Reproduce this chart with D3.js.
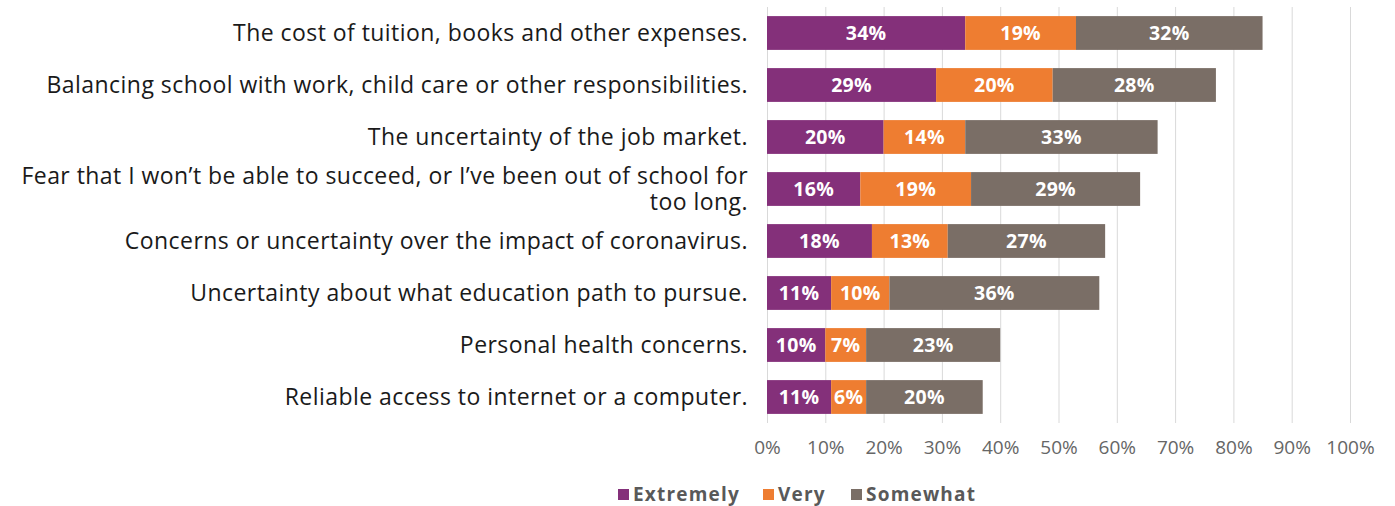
<!DOCTYPE html>
<html><head><meta charset="utf-8">
<script src="https://cdn.jsdelivr.net/npm/d3@7"></script>
<style>body{margin:0;background:#fff}svg{display:block}</style>
</head><body>
<svg id="c" width="1395" height="506"></svg>
<script>
const categories = [
  "The cost of tuition, books and other expenses.",
  "Balancing school with work, child care or other responsibilities.",
  "The uncertainty of the job market.",
  "Fear that I won\u2019t be able to succeed, or I\u2019ve been out of school for|too long.",
  "Concerns or uncertainty over the impact of coronavirus.",
  "Uncertainty about what education path to pursue.",
  "Personal health concerns.",
  "Reliable access to internet or a computer."
];
const seriesNames = ["Extremely", "Very", "Somewhat"];
const extremely = [34, 29, 20, 16, 18, 11, 10, 11];
const very = [19, 20, 14, 19, 13, 10, 7, 6];
const somewhat = [32, 28, 33, 29, 27, 36, 23, 20];
const tickValues = [0,10,20,30,40,50,60,70,80,90,100];
const colors = ["#84307a", "#ee7d31", "#7a6e66"];

const svg = d3.select("#c");
const font = "'Open Sans', sans-serif";
const x = d3.scaleLinear().domain([0,100]).range([767,1350]);
const y = d3.scaleBand().domain(categories).range([7,423]).paddingInner(0.35).paddingOuter(0.175);

// grid
svg.append("g").selectAll("line").data(tickValues).join("line")
  .attr("x1", d=>x(d)+0.5).attr("x2", d=>x(d)+0.5).attr("y1", 7).attr("y2", 423)
  .attr("stroke", "#d9d9d9").attr("stroke-width", 1);

const table = categories.map((c,i)=>({cat:c, Extremely:extremely[i], Very:very[i], Somewhat:somewhat[i]}));
const stacked = d3.stack().keys(seriesNames)(table);

const g = svg.append("g");
stacked.forEach((s, si) => {
  g.append("g").selectAll("rect").data(s).join("rect")
    .attr("x", d=>x(d[0])).attr("width", d=>x(d[1])-x(d[0]))
    .attr("y", d=>y(d.data.cat)).attr("height", y.bandwidth())
    .attr("fill", colors[si]);
  g.append("g").selectAll("text").data(s).join("text")
    .attr("x", d=>(x(d[0])+x(d[1]))/2).attr("y", d=>y(d.data.cat)+y.bandwidth()/2)
    .attr("dy", "0.36em").attr("text-anchor","middle")
    .attr("fill","#fff").attr("font-weight","bold").attr("font-size", 19.5)
    .attr("letter-spacing", 0.3)
    .attr("font-family", font)
    .text(d=>(d[1]-d[0])+"%");
});

// category labels
const lab = svg.append("g");
categories.forEach(c => {
  const lines = c.split("|");
  const cy = y(c)+y.bandwidth()/2;
  const lh = 26;
  lines.forEach((ln, i) => {
    lab.append("text").attr("text-anchor","end").attr("font-size", 23)
      .attr("letter-spacing", 0.45)
      .attr("font-family", font).attr("fill","#1a1a1a")
      .attr("x", 748)
      .attr("y", cy + (i - (lines.length-1)/2)*lh).attr("dy","0.35em").text(ln);
  });
});

// axis
const ax = svg.append("g").attr("transform","translate(0,423)")
  .call(d3.axisBottom(x).tickValues(tickValues).tickFormat(d=>d+"%").tickSize(0).tickPadding(18));
ax.select(".domain").remove();
ax.selectAll("text").attr("font-size", 19).attr("font-family", font).attr("fill","#666");

// legend
const leg = svg.append("g").attr("transform","translate(0,494)");
const legX = [618, 763, 851];
seriesNames.forEach((n,i)=>{
  leg.append("rect").attr("x", legX[i]).attr("y", -5).attr("width", 11).attr("height", 11).attr("fill", colors[i]);
  leg.append("text").attr("x", legX[i]+15).attr("y", 0).attr("dy","0.35em")
    .attr("font-size", 19).attr("letter-spacing", 1.2).attr("font-weight","bold").attr("font-family", font).attr("fill","#595959").text(n);
});
</script>
</body></html>
